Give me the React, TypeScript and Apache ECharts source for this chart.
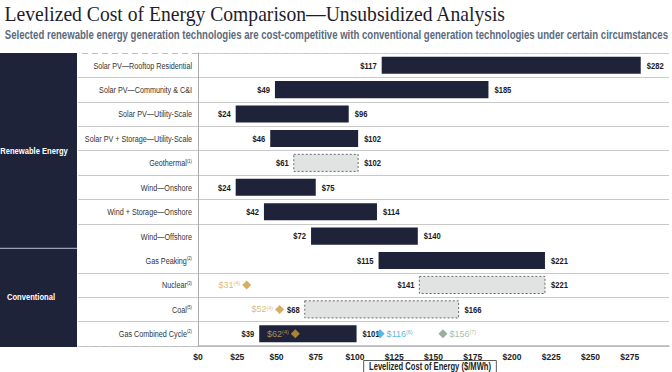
import React, { useEffect, useRef } from "react";
import * as echarts from "echarts";

const categories = [
  "Solar PV\u2014Rooftop Residential",
  "Solar PV\u2014Community & C&I",
  "Solar PV\u2014Utility-Scale",
  "Solar PV + Storage\u2014Utility-Scale",
  "Geothermal",
  "Wind\u2014Onshore",
  "Wind + Storage\u2014Onshore",
  "Wind\u2014Offshore",
  "Gas Peaking",
  "Nuclear",
  "Coal",
  "Gas Combined Cycle",
];
const categoryNotes = ["", "", "", "", "(1)", "", "", "", "(2)", "(3)", "(5)", "(2)"];
const lows = [117, 49, 24, 46, 61, 24, 42, 72, 115, 141, 68, 39];
const highs = [282, 185, 96, 102, 102, 75, 114, 140, 221, 221, 166, 101];
const estimated = [false, false, false, false, true, false, false, false, false, true, true, false];

const groupNames = ["Renewable Energy", "Conventional"];
const groupSizes = [8, 4];

const goldRows = ["Nuclear", "Coal", "Gas Combined Cycle"];
const goldValues = [31, 52, 62];
const goldNotes = ["(4)", "(4)", "(4)"];
const blueRows = ["Gas Combined Cycle"];
const blueValues = [116];
const blueNotes = ["(6)"];
const greenRows = ["Gas Combined Cycle"];
const greenValues = [156];
const greenNotes = ["(7)"];

const xMin = 0;
const xMax = 300;
const xStep = 25;

const title = "Levelized Cost of Energy Comparison\u2014Unsubsidized Analysis";
const subtitle =
  "Selected renewable energy generation technologies are cost-competitive with conventional generation technologies under certain circumstances";
const xAxisTitle = "Levelized Cost of Energy ($/MWh)";

const SANS = '"Liberation Sans", Arial, sans-serif';
const SERIF = '"Liberation Serif", "DejaVu Serif", serif';
const NAVY = "#1f2339";
const GOLD = "#c99a3e";
const GOLD_TEXT = "#d2a95a";
const BLUE = "#2aa5de";
const GREEN = "#7f9c80";
const GRID_LINE = "#c9c9c9";
const NARROW_SCALE = 0.8;

const GRID_LEFT = 198;
const GRID_TOP = 53;
const GRID_H = 293;
const PANEL_W = 77;

export default function App() {
  const ref = useRef<HTMLDivElement>(null);
  useEffect(() => {
    if (!ref.current) return;
    const chart = echarts.init(ref.current, undefined, { renderer: "svg" });
    const rowH = GRID_H / categories.length;
    const divY = GRID_TOP + groupSizes[0] * rowH;

    const markerSeries = (
      rows: string[],
      values: number[],
      notes: string[],
      color: string,
      textColor: string,
      pos: "left" | "right"
    ) => ({
      type: "scatter",
      yAxisIndex: 0,
      symbol: "diamond",
      symbolSize: 9,
      z: 5,
      itemStyle: { color },
      data: values.map((v, i) => ({ value: [v, rows[i]], note: notes[i] })),
      label: {
        show: true,
        position: pos,
        distance: 2,
        formatter: (p: any) => `{v|$${p.value[0]}}{s|${p.data.note}}`,
        rich: {
          v: { fontFamily: SANS, fontSize: 9, color: textColor },
          s: { fontFamily: SANS, fontSize: 5.5, color: textColor, verticalAlign: "top", lineHeight: 7 },
        },
      },
    });

    const valueFont = `bold 9.5px ${SANS}`;

    chart.setOption({
      animation: false,
      grid: { left: GRID_LEFT, top: GRID_TOP, height: GRID_H, right: -10, containLabel: false },
      xAxis: {
        type: "value",
        min: xMin,
        max: xMax,
        interval: xStep,
        axisLine: { show: true, lineStyle: { color: "#b5b5b5", width: 1.5 } },
        axisTick: { show: false },
        splitLine: { show: false },
        axisLabel: {
          margin: 6,
          fontFamily: SANS,
          fontWeight: "bold",
          fontSize: 8.5,
          color: "#222",
          formatter: (v: number) => (v >= xMax ? "" : "$" + v),
        },
      },
      yAxis: [
        {
          type: "category",
          data: categories,
          inverse: true,
          axisLine: { show: true, lineStyle: { color: "#ababab", width: 1 } },
          axisTick: {
            show: true,
            length: GRID_LEFT - PANEL_W - 1,
            interval: (i: number) => i !== groupSizes[0] && i !== 0,
            lineStyle: { color: GRID_LINE, width: 1.2 },
          },
          splitLine: {
            show: true,
            interval: (i: number) => i !== groupSizes[0],
            lineStyle: { color: GRID_LINE, width: 1.2 },
          },
          axisLabel: { show: false },
        },
        {
          type: "category",
          data: categories,
          inverse: true,
          position: "left",
          axisLine: { show: false },
          axisLabel: { show: false },
          axisTick: {
            show: true,
            length: GRID_LEFT - PANEL_W - 1,
            interval: (i: number) => i === groupSizes[0],
            lineStyle: { color: "#bdbdbd", width: 1.2, type: [6, 4] },
          },
          splitLine: {
            show: true,
            interval: (i: number) => i === groupSizes[0],
            lineStyle: { color: "#cfcfcf", width: 1.2, type: [6, 4] },
          },
        },
      ],
      series: [
        {
          // category labels (condensed), placed through the axes' scales
          type: "custom",
          yAxisIndex: 0,
          encode: { x: 0, y: 1 },
          data: categories.map((c, i) => [xMin, i]),
          renderItem: (params: any, api: any) => {
            const idx = api.value(1);
            const p = api.coord([xMin, idx]);
            const note = categoryNotes[idx];
            const name = categories[idx];
            return {
              type: "text",
              x: p[0] - 6,
              y: p[1],
              scaleX: 0.76,
              style: {
                text: note ? `{n|${name}}{s|${note}}` : `{n|${name}}`,
                align: "right",
                verticalAlign: "middle",
                rich: {
                  n: { fontFamily: SANS, fontSize: 9.5, fill: "#333" },
                  s: { fontFamily: SANS, fontSize: 5.5, fill: "#333", verticalAlign: "top", lineHeight: 7 },
                },
              },
            };
          },
          silent: true,
        },
        {
          // range bars with their low / high values
          type: "custom",
          yAxisIndex: 0,
          encode: { x: [0, 1], y: 2 },
          data: lows.map((lo, i) => [lo, highs[i], i]),
          renderItem: (params: any, api: any) => {
            const idx = api.value(2);
            const lo = api.value(0);
            const hi = api.value(1);
            const a = api.coord([lo, idx]);
            const b = api.coord([hi, idx]);
            const h = api.size([0, 1])[1] * 0.7;
            const est = estimated[idx];
            return {
              type: "group",
              children: [
                {
                  type: "rect",
                  shape: { x: a[0], y: a[1] - h / 2, width: b[0] - a[0], height: h },
                  style: est
                    ? { fill: "#e1e3e3", stroke: "#6a6a6a", lineWidth: 1, lineDash: [2, 2] }
                    : { fill: NAVY },
                },
                {
                  type: "text",
                  x: a[0] - 5,
                  y: a[1],
                  scaleX: NARROW_SCALE,
                  style: { text: "$" + lo, font: valueFont, fill: "#1a1a1a", align: "right", verticalAlign: "middle" },
                },
                {
                  type: "text",
                  x: b[0] + 6,
                  y: b[1],
                  scaleX: NARROW_SCALE,
                  style: { text: "$" + hi, font: valueFont, fill: "#1a1a1a", align: "left", verticalAlign: "middle" },
                },
              ],
            };
          },
          silent: true,
        },
        markerSeries(goldRows, goldValues, goldNotes, GOLD, GOLD_TEXT, "left"),
        markerSeries(blueRows, blueValues, blueNotes, BLUE, BLUE, "right"),
        markerSeries(greenRows, greenValues, greenNotes, GREEN, "#8fae90", "right"),
      ],
      graphic: [
        {
          type: "rect",
          z: 10,
          shape: { x: -20, y: GRID_TOP, width: PANEL_W + 20, height: GRID_H + 1 },
          style: { fill: NAVY },
        },
        {
          type: "line",
          z: 11,
          shape: { x1: 0, y1: divY, x2: PANEL_W, y2: divY },
          style: { stroke: "#9aa0b0", lineWidth: 1.2 },
        },
        {
          type: "text",
          z: 12,
          x: 34,
          y: (GRID_TOP + divY) / 2,
          scaleX: NARROW_SCALE,
          style: {
            text: groupNames[0],
            fill: "#ffffff",
            font: `bold 9.5px ${SANS}`,
            align: "center",
            verticalAlign: "middle",
          },
        },
        {
          type: "text",
          z: 12,
          x: 31,
          y: (divY + GRID_TOP + GRID_H) / 2,
          scaleX: NARROW_SCALE,
          style: {
            text: groupNames[1],
            fill: "#ffffff",
            font: `bold 9.5px ${SANS}`,
            align: "center",
            verticalAlign: "middle",
          },
        },
        {
          type: "text",
          z: 12,
          x: 505,
          y: 14,
          scaleX: 0.935,
          style: {
            text: title,
            fill: "#1d1d2b",
            font: `21px ${SERIF}`,
            align: "right",
            verticalAlign: "middle",
          },
        },
        {
          type: "text",
          z: 12,
          x: 668,
          y: 35,
          scaleX: 0.8,
          style: {
            text: subtitle,
            fill: "#5b6a7c",
            font: `bold 12px ${SANS}`,
            align: "right",
            verticalAlign: "middle",
          },
        },
        {
          type: "text",
          z: 12,
          x: 430,
          y: 366.5,
          scaleX: 0.76,
          style: {
            text: xAxisTitle,
            fill: "#222",
            font: `bold 10px ${SANS}`,
            align: "center",
            verticalAlign: "middle",
            borderColor: "#444",
            borderWidth: 1,
            padding: [1, 7, 1, 7],
          },
        },
      ],
    });
    return () => chart.dispose();
  }, []);
  return (
    <div
      ref={ref}
      style={{ position: "fixed", left: 0, top: 0, width: 672, height: 372, background: "#fff" }}
    />
  );
}
